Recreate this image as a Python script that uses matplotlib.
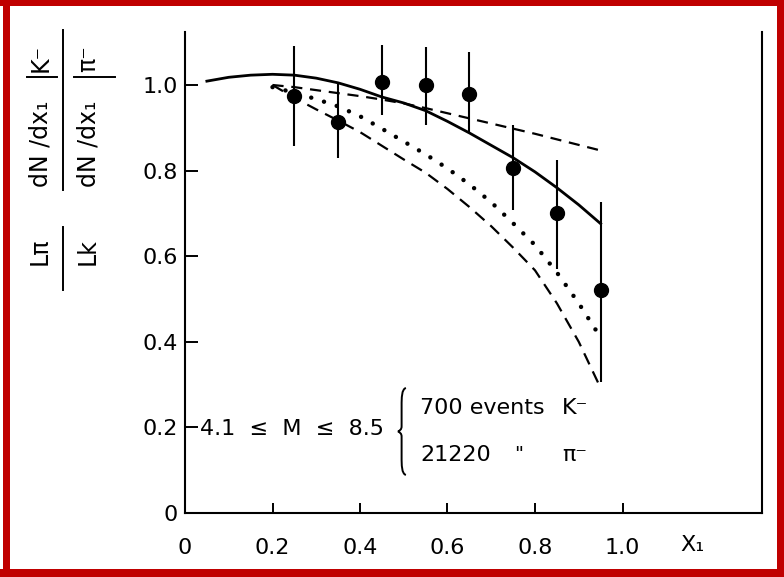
import matplotlib
matplotlib.use("Agg")
from matplotlib import pyplot as plt
from matplotlib.lines import Line2D
from matplotlib.path import Path
from matplotlib.patches import PathPatch, Rectangle
import numpy as np

# ratio of K- to pi- x1 distributions, 4.1 < M < 8.5

# measured points with asymmetric errors
pts_x = [0.25, 0.35, 0.45, 0.55, 0.65, 0.75, 0.85, 0.95]
pts_y = [0.975, 0.913, 1.008, 0.999, 0.980, 0.805, 0.702, 0.522]
err_lo = [0.118, 0.084, 0.079, 0.092, 0.090, 0.098, 0.132, 0.217]
err_hi = [0.116, 0.092, 0.086, 0.090, 0.096, 0.101, 0.123, 0.205]

# solid curve
solid_x = [0.05, 0.10, 0.15, 0.20, 0.25, 0.30, 0.35, 0.40, 0.45, 0.50,
           0.55, 0.60, 0.65, 0.70, 0.75, 0.80, 0.85, 0.90, 0.95]
solid_y = [1.009, 1.018, 1.023, 1.025, 1.023, 1.016, 1.005, 0.990, 0.972, 0.958,
           0.940, 0.915, 0.888, 0.859, 0.830, 0.797, 0.760, 0.720, 0.676]

# curves starting at x1 = 0.2
curve_x = [0.20, 0.25, 0.30, 0.35, 0.40, 0.45, 0.50, 0.55,
           0.60, 0.65, 0.70, 0.75, 0.80, 0.85, 0.90, 0.95]
short_dash_y = [1.000, 0.995, 0.988, 0.981, 0.974, 0.966, 0.957, 0.946,
                0.934, 0.922, 0.910, 0.898, 0.886, 0.873, 0.860, 0.847]
dotted_y = [0.995, 0.982, 0.967, 0.950, 0.927, 0.898, 0.868, 0.838,
            0.805, 0.768, 0.726, 0.677, 0.626, 0.562, 0.490, 0.410]
long_dash_y = [1.000, 0.970, 0.943, 0.917, 0.890, 0.858, 0.826, 0.795,
               0.757, 0.715, 0.670, 0.620, 0.567, 0.490, 0.400, 0.292]

xticks = [0, 0.2, 0.4, 0.6, 0.8, 1.0]
xticklabels = ["0", "0.2", "0.4", "0.6", "0.8", "1.0"]
yticks = [0, 0.2, 0.4, 0.6, 0.8, 1.0]
yticklabels = ["0", "0.2", "0.4", "0.6", "0.8", "1.0"]

W, H = 784, 577
fig = plt.figure(figsize=(W / 100, H / 100), dpi=100)
fig.patch.set_facecolor("white")
ax = fig.add_axes([185 / W, 1 - 513 / H, (762 - 185) / W, (513 - 32) / H])
ax.set_xlim(0, (762 - 185) / 437.5)
ax.set_ylim(0, (513 - 32) / 428)

ax.plot(solid_x, solid_y, color="black", lw=2.0)
ax.plot(curve_x, short_dash_y, color="black", lw=1.6, dashes=(5, 3.5))
ax.plot(curve_x, long_dash_y, color="black", lw=1.6, dashes=(5.5, 3.5))
ax.plot(curve_x, dotted_y, color="black", lw=3.2, dashes=(0.01, 3.0),
        dash_capstyle="round")
ax.errorbar(pts_x, pts_y, yerr=[err_lo, err_hi], fmt="o", color="black",
            ms=10, elinewidth=1.5, capsize=0)

for s in ["left", "right", "bottom"]:
    ax.spines[s].set_linewidth(1.5)
ax.spines["top"].set_visible(False)
ax.set_xticks(xticks)
ax.set_xticklabels(xticklabels)
ax.set_yticks(yticks)
ax.set_yticklabels(yticklabels)
ax.tick_params(axis="x", direction="in", length=7, width=1.4, pad=18, labelsize=16)
ax.tick_params(axis="y", direction="in", length=9, width=1.4, pad=5, labelsize=16)
ax.text(1.161, -22 / 481, "X₁", transform=ax.get_xaxis_transform(),
        ha="center", va="top", fontsize=16)

# annotation with brace
ax.text(0.034, 0.197, "4.1  ≤  M  ≤  8.5", ha="left", va="center", fontsize=16)
ax.text(0.537, 0.245, "700 events", ha="left", va="center", fontsize=16)
ax.text(0.862, 0.245, "K⁻", ha="left", va="center", fontsize=16)
ax.text(0.537, 0.136, "21220", ha="left", va="center", fontsize=16)
ax.text(0.752, 0.136, '"', ha="left", va="center", fontsize=14)
ax.text(0.862, 0.136, "π⁻", ha="left", va="center", fontsize=16)

bx, bw, y0, y1 = 0.487, 0.018, 0.089, 0.292
ym, hh = (y0 + y1) / 2, y1 - y0
xc = bx + bw * 0.45
verts = [(bx + bw, y1),
         (xc, y1 - 0.01 * hh), (xc, y1 - 0.12 * hh), (xc, y1 - 0.2 * hh),
         (xc, ym + 0.06 * hh),
         (xc, ym + 0.02 * hh), (bx + 0.2 * bw, ym + 0.01 * hh), (bx, ym),
         (bx + 0.2 * bw, ym - 0.01 * hh), (xc, ym - 0.02 * hh), (xc, ym - 0.06 * hh),
         (xc, y0 + 0.2 * hh),
         (xc, y0 + 0.12 * hh), (xc, y0 + 0.01 * hh), (bx + bw, y0)]
codes = ([Path.MOVETO] + [Path.CURVE4] * 3 + [Path.LINETO] + [Path.CURVE4] * 6
         + [Path.LINETO] + [Path.CURVE4] * 3)
ax.add_patch(PathPatch(Path(verts, codes), fc="none", ec="black", lw=1.4))

# y label built from rotated pieces
def vtext(px, py, s, size=17):
    fig.text(px / W, 1 - py / H, s, rotation=90, ha="center", va="bottom",
             fontsize=size)

def fline(xs, ys, lw=1.4):
    fig.add_artist(Line2D([x / W for x in xs], [1 - y / H for y in ys],
                          color="black", lw=lw))

vtext(41, 187, "dN /dx₁")
vtext(41, 72, "K⁻")
vtext(88, 187, "dN /dx₁")
vtext(88, 72, "π⁻")
fline([27, 57], [77, 77])
fline([74, 115], [77, 77])
fline([63, 63], [30, 190])
vtext(40, 265, "Lπ")
vtext(88, 265, "Lk")
fline([63, 63], [227, 290])

# red frame
red = "#c00000"
for r in [(3, 0, 7, H), (0, 0, W, 6), (W - 7, 0, 7, H), (0, H - 8, W, 8)]:
    fig.add_artist(Rectangle((r[0] / W, 1 - (r[1] + r[3]) / H), r[2] / W, r[3] / H,
                             transform=fig.transFigure, color=red, lw=0))

fig.savefig("out.png", dpi=100)
